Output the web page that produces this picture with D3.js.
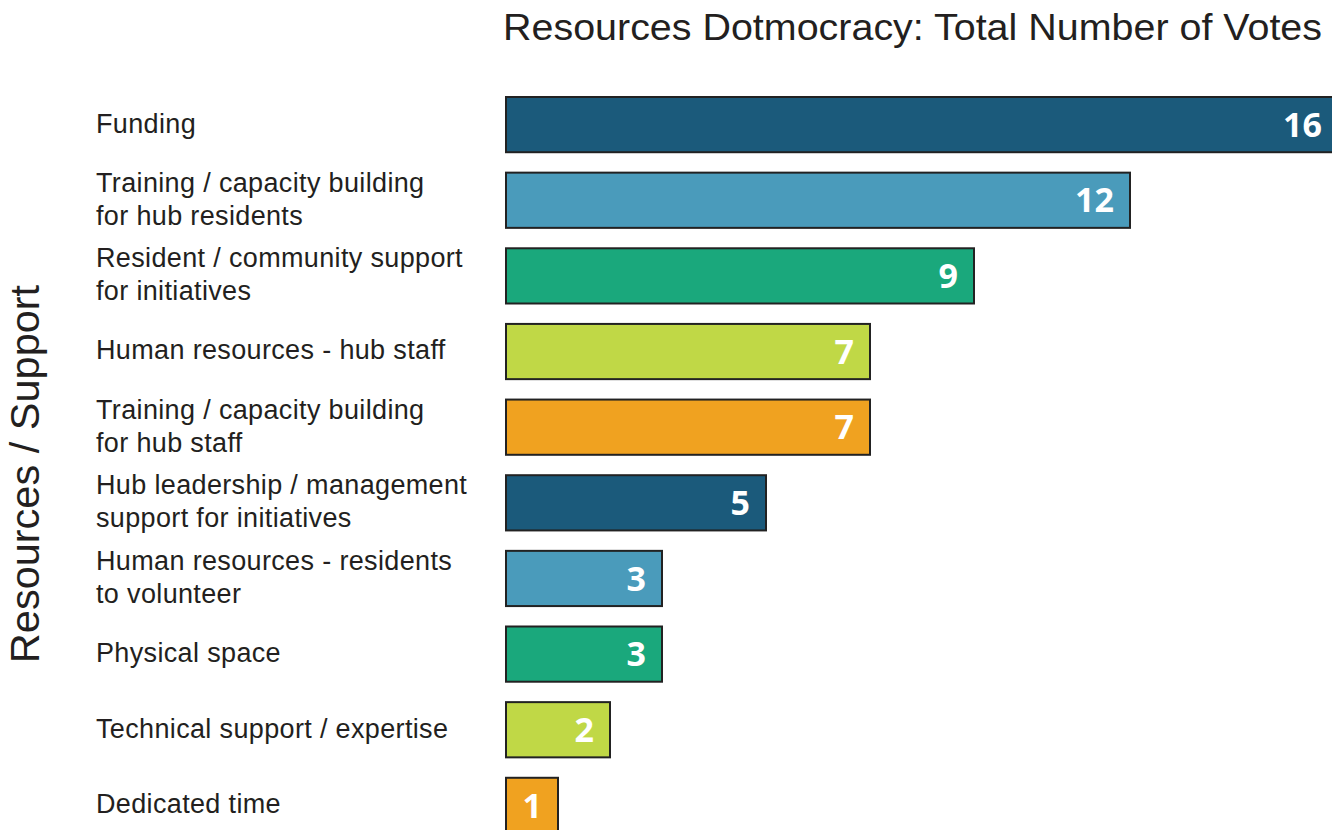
<!DOCTYPE html>
<html><head><meta charset="utf-8">
<script src="https://cdn.jsdelivr.net/npm/d3@7"></script>
<style>
html,body{margin:0;padding:0;background:#fff;overflow:hidden;}
</style></head>
<body>
<svg id="chart" width="1332" height="830"></svg>
<script>
const categories = [
  "Funding",
  "Training / capacity building\nfor hub residents",
  "Resident / community support\nfor initiatives",
  "Human resources - hub staff",
  "Training / capacity building\nfor hub staff",
  "Hub leadership / management\nsupport for initiatives",
  "Human resources - residents\nto volunteer",
  "Physical space",
  "Technical support / expertise",
  "Dedicated time"
];
const votes = [16, 12, 9, 7, 7, 5, 3, 3, 2, 1];
const barColors = ["#1b5a7b", "#4a9bbb", "#1aa87c", "#c0d846", "#f0a220"];
const titleText = "Resources Dotmocracy: Total Number of Votes";
const yAxisTitle = "Resources / Support";

const svg = d3.select("#chart");
const textColor = "#231f20";

const x = d3.scaleLinear().domain([0, 16]).range([506, 1338]);
const y = d3.scaleBand().domain(categories).range([97, 833]).paddingInner(0.27).paddingOuter(0);

svg.append("text")
  .attr("x", 503).attr("y", 40)
  .attr("font-family", "Liberation Sans, Arial, sans-serif")
  .attr("font-size", 37)
  .attr("fill", textColor)
  .attr("textLength", 819).attr("lengthAdjust", "spacingAndGlyphs")
  .text(titleText);

svg.append("text")
  .attr("transform", "translate(39,474) rotate(-90)")
  .attr("text-anchor", "middle")
  .attr("font-family", "Liberation Sans, Arial, sans-serif")
  .attr("font-size", 41.5)
  .attr("fill", textColor)
  .text(yAxisTitle);

const g = svg.append("g");
const rows = g.selectAll("g.row").data(categories.map((c, i) => ({c, v: votes[i], i})))
  .enter().append("g").attr("class", "row");

rows.append("rect")
  .attr("x", x(0))
  .attr("y", d => y(d.c))
  .attr("width", d => x(d.v) - x(0))
  .attr("height", y.bandwidth())
  .attr("fill", d => barColors[d.i % barColors.length])
  .attr("stroke", "#222")
  .attr("stroke-width", 2);

rows.append("text")
  .attr("x", d => x(d.v) - 16)
  .attr("y", d => y(d.c) + y.bandwidth() / 2)
  .attr("dy", "0.36em")
  .attr("text-anchor", "end")
  .attr("font-family", "Open Sans, sans-serif")
  .attr("font-weight", "bold")
  .attr("font-size", 34)
  .attr("fill", "#fff")
  .text(d => d.v);

rows.each(function(d) {
  const lines = d.c.split("\n");
  const lh = 33;
  const cy = y(d.c) + y.bandwidth() / 2 - 1.5;
  const t = d3.select(this).append("text")
    .attr("font-family", "Liberation Sans, Arial, sans-serif")
    .attr("font-size", 27)
    .attr("letter-spacing", 0.35)
    .attr("fill", textColor);
  lines.forEach((ln, k) => {
    t.append("tspan")
      .attr("x", 96)
      .attr("y", cy + (k - (lines.length - 1) / 2) * lh)
      .attr("dy", "0.35em")
      .text(ln);
  });
});
</script>
</body></html>
